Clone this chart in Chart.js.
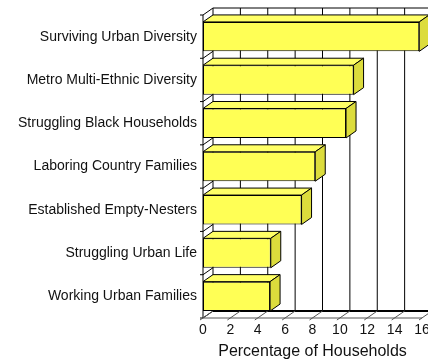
<!DOCTYPE html>
<html>
<head>
<meta charset="utf-8">
<script src="https://cdn.jsdelivr.net/npm/chart.js@4/dist/chart.umd.min.js"></script>
<style>
  html, body { margin: 0; padding: 0; background: #fff; }
  #wrap { width: 428px; height: 362px; }
</style>
</head>
<body>
<div id="wrap"><canvas id="cchart"></canvas></div>
<script>
// household segments, top to bottom
const segments = [
  'Surviving Urban Diversity',
  'Metro Multi-Ethnic Diversity',
  'Struggling Black Households',
  'Laboring Country Families',
  'Established Empty-Nesters',
  'Struggling Urban Life',
  'Working Urban Families',
];
const householdShare = [15.8, 11.0, 10.45, 8.2, 7.2, 4.95, 4.9];
const percentTicks = [0, 2, 4, 6, 8, 10, 12, 14, 16];

// fake 3d depth of the box, in pixels
const DX = 10;
const DY = 7;

const line = (ctx, x1, y1, x2, y2) => {
  ctx.beginPath();
  ctx.moveTo(x1, y1);
  ctx.lineTo(x2, y2);
  ctx.stroke();
};

const poly = (ctx, pts, fill) => {
  ctx.beginPath();
  ctx.moveTo(pts[0][0], pts[0][1]);
  pts.slice(1).forEach(p => ctx.lineTo(p[0], p[1]));
  ctx.closePath();
  ctx.fillStyle = fill;
  ctx.fill();
  ctx.stroke();
};

const box3d = {
  id: 'box3d',
  beforeDatasetsDraw(chart) {
    const { ctx, chartArea: { left, right, top, bottom }, scales: { x, y } } = chart;
    const bl = left + DX, bt = top - DY, bb = bottom - DY;
    ctx.save();
    ctx.strokeStyle = '#000';
    ctx.lineWidth = 1;

    // back wall grid
    x.ticks.forEach(t => {
      if (t.value === 0) return;
      const px = x.getPixelForValue(t.value) + DX;
      line(ctx, px, bt, px, bb);
    });
    line(ctx, bl, bt, right + DX, bt);
    line(ctx, bl, bt, bl, bb);

    // left wall + category ticks
    line(ctx, left, top, left, bottom);
    for (let i = 0; i <= segments.length; i++) {
      const yy = y.getPixelForValue(i - 0.5);
      line(ctx, left - 3, yy, left, yy);
      line(ctx, left, yy, bl, yy - DY);
    }

    // floor
    ctx.lineWidth = 2;
    line(ctx, bl, bb, right + DX, bb);
    ctx.lineWidth = 1;
    ctx.strokeStyle = '#555';
    line(ctx, left, bottom, right, bottom);
    x.ticks.forEach(t => {
      const px = x.getPixelForValue(t.value);
      line(ctx, px - 3, bottom + 2, px + DX, bb);
    });
    ctx.restore();
  },
  afterDatasetsDraw(chart) {
    const { ctx } = chart;
    const meta = chart.getDatasetMeta(0);
    ctx.save();
    ctx.strokeStyle = '#000';
    ctx.lineWidth = 1;
    ctx.lineJoin = 'miter';
    meta.data.forEach(bar => {
      const { x, y, base, height } = bar.getProps(['x', 'y', 'base', 'height'], true);
      const t = y - height / 2, b = y + height / 2;
      poly(ctx, [[base, t], [x, t], [x + DX, t - DY], [base + DX, t - DY]], '#ffff66');
      poly(ctx, [[x, t], [x + DX, t - DY], [x + DX, b - DY], [x, b]], '#dcdc3c');
    });
    ctx.restore();
  },
};

Chart.defaults.font.family = "Arial, 'Liberation Sans', sans-serif";
Chart.defaults.color = '#111';

const chart = new Chart(document.getElementById('cchart'), {
  type: 'bar',
  data: {
    labels: segments,
    datasets: [
      {
        data: householdShare,
        backgroundColor: '#ffff55',
        borderColor: '#000',
        borderWidth: 1,
        borderSkipped: false,
        barPercentage: 0.68,
        categoryPercentage: 1,
      },
    ],
  },
  options: {
    indexAxis: 'y',
    animation: false,
    responsive: true,
    maintainAspectRatio: false,
    layout: {
      padding: { top: 15, right: 6, bottom: 0, left: 0 },
    },
    plugins: {
      legend: { display: false },
      tooltip: { enabled: false },
    },
    scales: {
      x: {
        min: 0,
        max: 16,
        afterBuildTicks: scale => {
          scale.ticks = percentTicks.map(v => ({ value: v }));
        },
        afterFit: scale => {
          scale.height = 44;
          scale.paddingLeft = 0;
          scale.paddingRight = 0;
        },
        ticks: {
          font: { size: 14 },
          padding: 4,
          maxRotation: 0,
          autoSkip: false,
        },
        grid: { display: false, drawTicks: false },
        border: { display: false },
        title: {
          display: true,
          text: 'Percentage of Households',
          font: { size: 16 },
          padding: { top: 0, bottom: 1 },
        },
      },
      y: {
        afterFit: scale => {
          scale.width = 203;
        },
        ticks: {
          font: { size: 14 },
          padding: 6,
        },
        grid: { display: false, drawTicks: false },
        border: { display: false },
      },
    },
  },
  plugins: [box3d],
});
</script>
</body>
</html>
